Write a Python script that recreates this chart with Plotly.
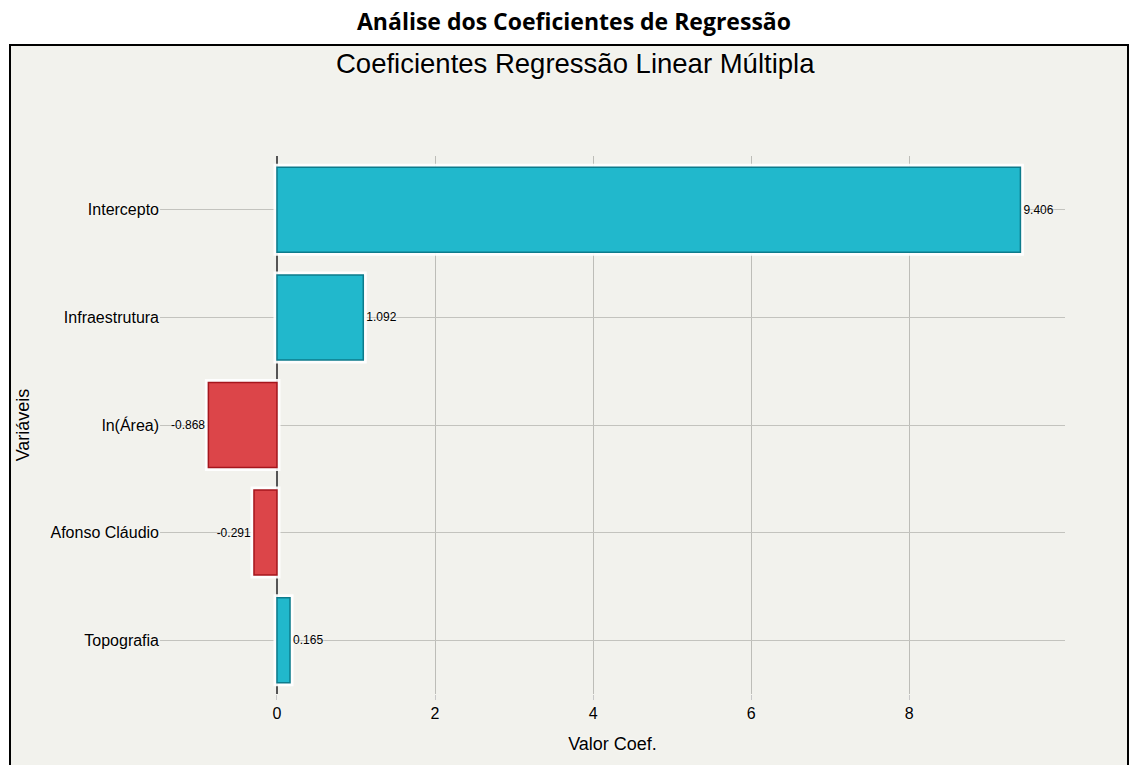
import plotly.graph_objects as go

variaveis = ['Intercepto', 'Infraestrutura', 'ln(Área)', 'Afonso Cláudio', 'Topografia']
coeficientes = [9.406, 1.092, -0.868, -0.291, 0.165]
x_ticks = [0, 2, 4, 6, 8]

W, H = 1129, 765
ml, mr, mt, mb = 160, 64, 156, 71
pw, ph = W - ml - mr, H - mt - mb

def px_x(p):
    return (p - ml) / pw

def px_y(p):
    return (H - mb - p) / ph

cor_pos, borda_pos = '#21b8cc', '#0d7b8b'
cor_neg, borda_neg = '#dc4549', '#a5161d'
fill = [cor_pos if v >= 0 else cor_neg for v in coeficientes]
edge = [borda_pos if v >= 0 else borda_neg for v in coeficientes]
labels = [f'{v:.3f}' for v in coeficientes]

glow = '0px 0px 3px white'

fig = go.Figure()
# soft white halo behind bars
fig.add_bar(x=coeficientes, y=variaveis, orientation='h',
            marker=dict(color='rgba(255,255,255,0)', line=dict(color='rgba(255,255,255,0.9)', width=7)),
            hoverinfo='skip', showlegend=False)
fig.add_bar(x=coeficientes, y=variaveis, orientation='h',
            marker=dict(color=fill, line=dict(color=edge, width=1.5)),
            text=labels, textposition='outside', cliponaxis=False,
            textfont=dict(family='Liberation Sans', size=12, color='black', shadow=glow),
            showlegend=False)

fig.update_layout(
    width=W, height=H,
    margin=dict(l=ml, r=mr, t=mt, b=mb),
    paper_bgcolor='white',
    plot_bgcolor='rgba(0,0,0,0)',
    barmode='overlay', bargap=0.21,
    font=dict(family='Liberation Sans', color='black'),
    shapes=[dict(type='rect', xref='paper', yref='paper', layer='below',
                 x0=px_x(10), x1=px_x(1128), y0=px_y(768), y1=px_y(45),
                 fillcolor='#f2f2ed', line=dict(color='black', width=2))],
    annotations=[
        dict(text='<b>Análise dos Coeficientes de Regressão</b>', xref='paper', yref='paper',
             x=px_x(574), y=px_y(21), showarrow=False, xanchor='center', yanchor='middle',
             font=dict(family='Open Sans', size=23, color='black')),
        dict(text='Coeficientes Regressão Linear Múltipla', xref='paper', yref='paper',
             x=px_x(575), y=px_y(64), showarrow=False, xanchor='center', yanchor='middle',
             font=dict(family='Liberation Sans', size=27.5, color='black', shadow=glow)),
    ],
)

fig.update_xaxes(range=[-1.48, 9.97], tickvals=x_ticks, showgrid=True, gridcolor='#bdbdb8', gridwidth=1,
                 zeroline=True, zerolinecolor='#555555', zerolinewidth=1.5,
                 ticks='outside', ticklen=5, tickcolor='#c8c8c8', automargin=False,
                 tickfont=dict(size=16, shadow=glow),
                 title=dict(text='Valor Coef.', font=dict(size=18, shadow=glow), standoff=16))
fig.update_yaxes(autorange='reversed', showgrid=True, gridcolor='#c3c3be', gridwidth=1,
                 ticks='', automargin=False, tickfont=dict(size=16, shadow=glow),
                 title=dict(text='Variáveis', font=dict(size=18, shadow=glow), standoff=16))

fig.write_html('out.html', config={'displayModeBar': False},
               post_script="document.body.style.margin='0';")
